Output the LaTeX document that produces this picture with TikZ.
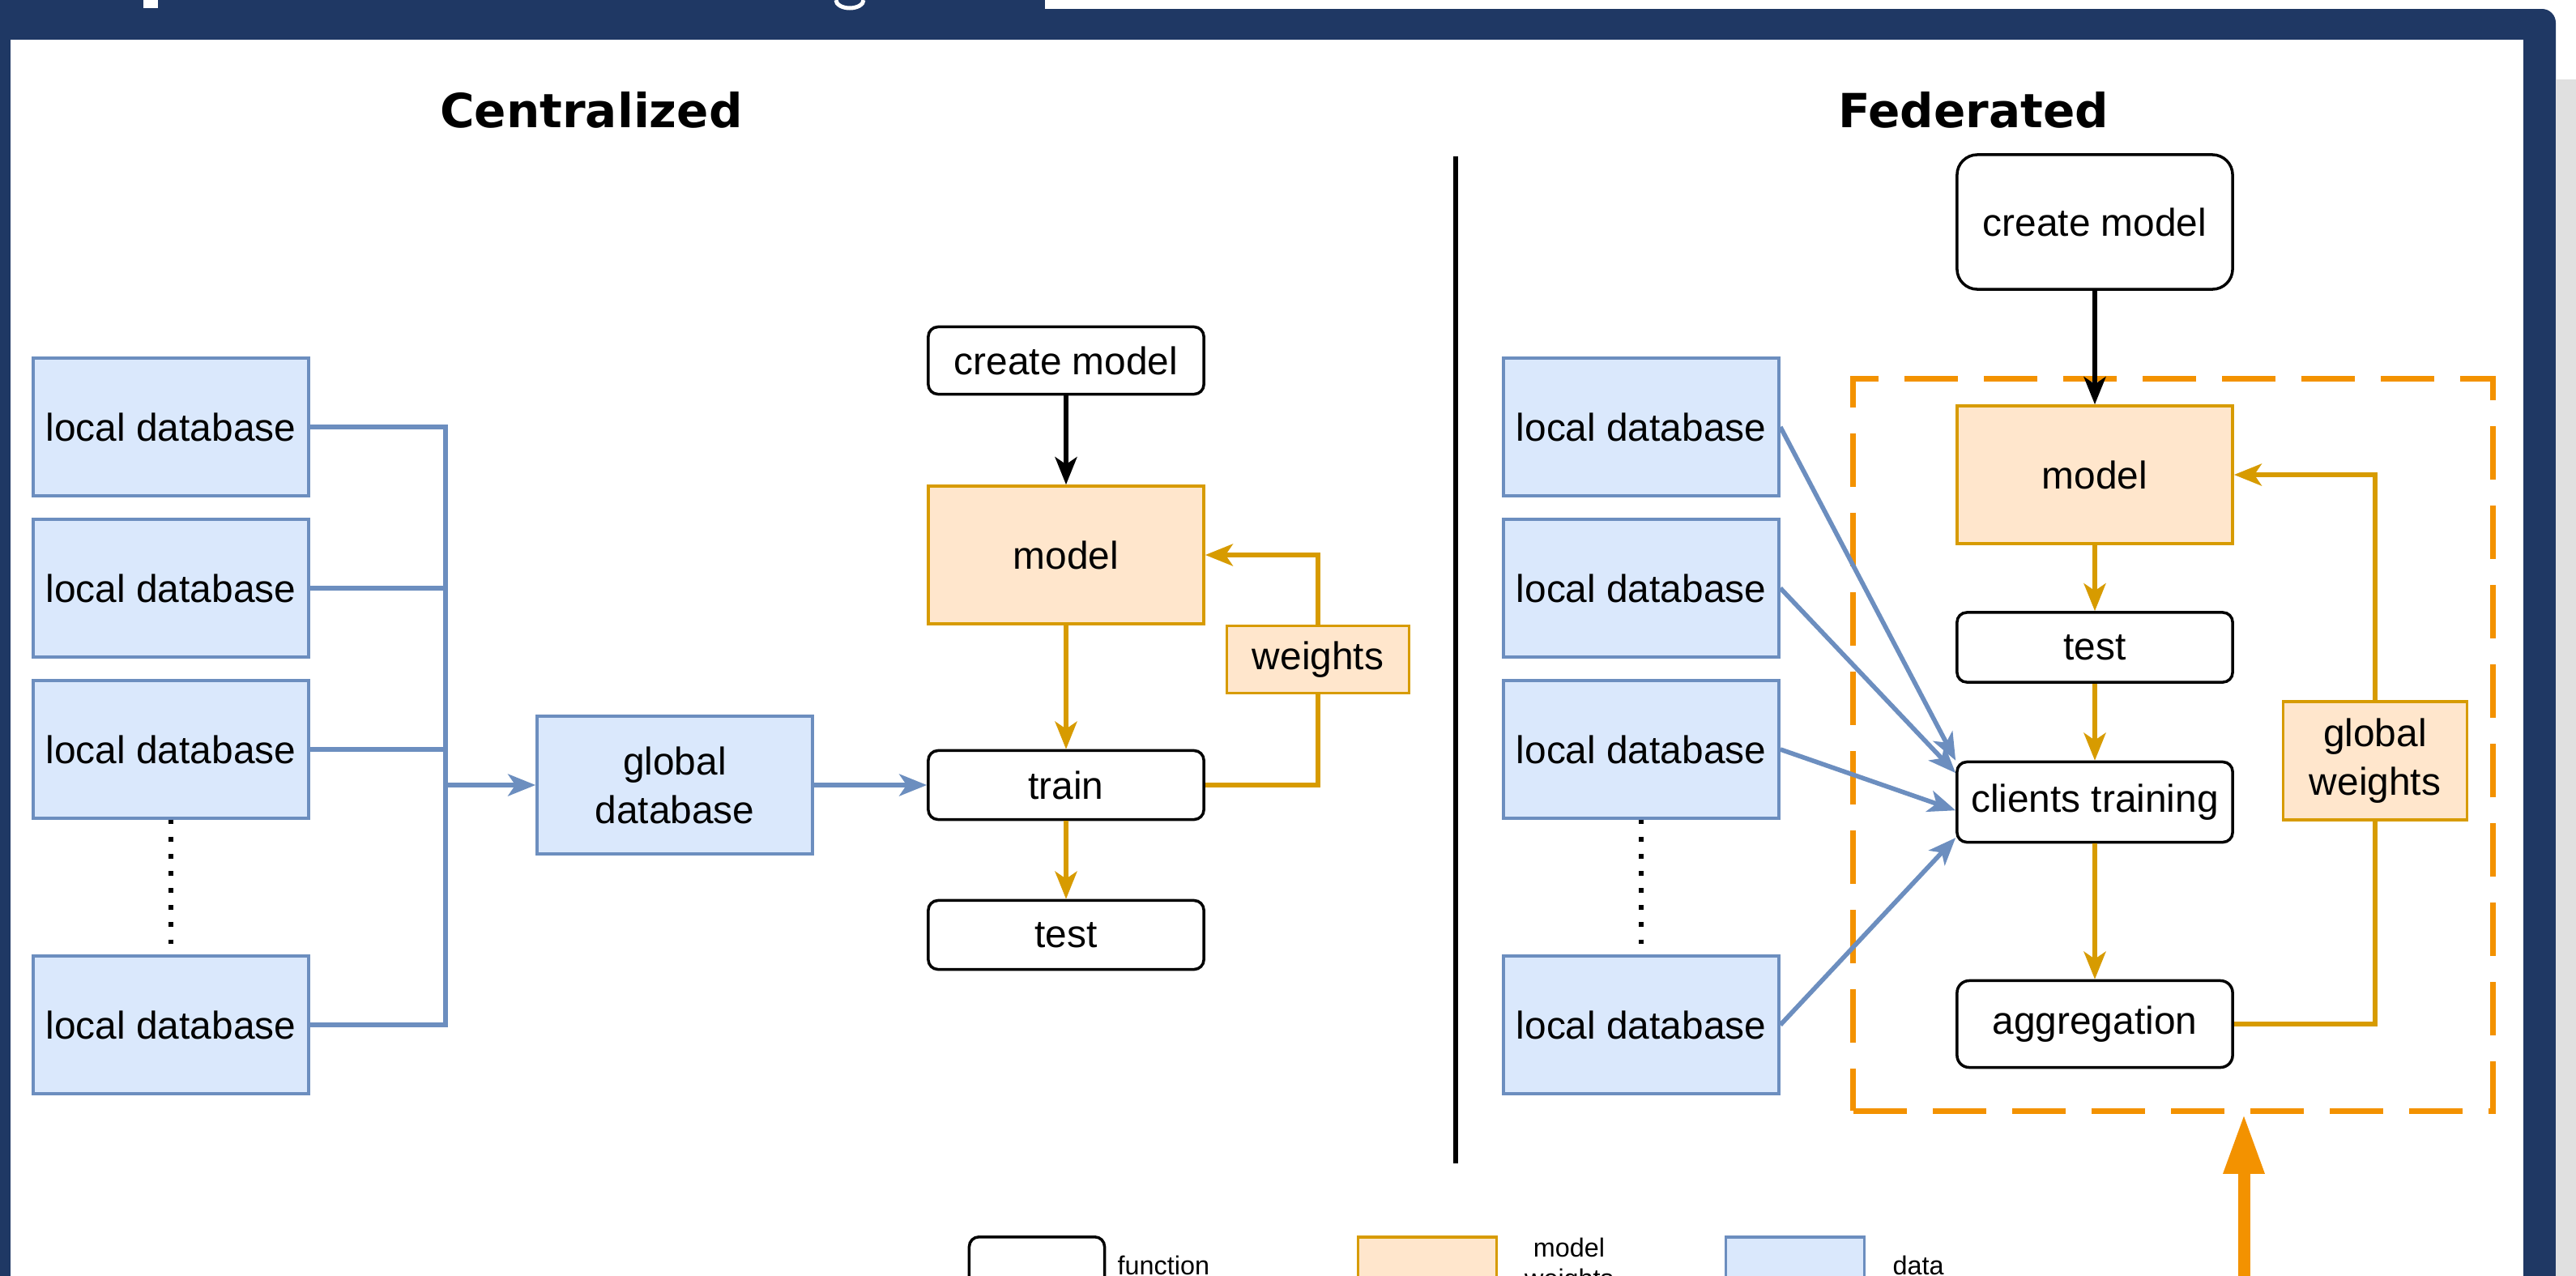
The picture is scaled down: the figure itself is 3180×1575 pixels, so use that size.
\documentclass[tikz,border=0pt]{standalone}
\usepackage{fontspec}
\setmainfont{Liberation Sans}
\newfontfamily\headfont{DejaVu Sans}
\usepackage{xcolor}
\usetikzlibrary{arrows.meta,calc}

\definecolor{navy}{RGB}{31,56,100}
\definecolor{dbfill}{HTML}{DAE8FC}
\definecolor{dbline}{HTML}{6C8EBF}
\definecolor{mfill}{HTML}{FFE6CC}
\definecolor{mline}{HTML}{D79B00}
\definecolor{fedline}{HTML}{F39200}
\definecolor{sidegray}{HTML}{E0E0E0}

\begin{document}
\begin{tikzpicture}[x=0.01cm, y=-0.01cm,
      every node/.style = {align=center, inner sep=0pt,
        font=\fontsize{13.6}{17}\selectfont},
      head/.style = {font=\headfont\bfseries\fontsize{16.5}{20}\selectfont},
      func/.style = {draw, fill=white, rounded corners=0.12cm,
        line width=1pt, minimum width=3.4cm},
      db/.style = {draw=dbline, fill=dbfill, line width=1pt,
        minimum width=3.4cm, minimum height=1.7cm},
      wts/.style = {draw=mline, fill=mfill, line width=1pt},
      link/.style = {line width=1.6pt},
      flow/.style = {line width=1.6pt,
        -{Stealth[length=0.34cm, width=0.27cm, inset=0.09cm]}},
      dots/.style = {line width=1.6pt, dash pattern=on 1.6pt off 4.4pt},
      legend/.style = {font=\fontsize{9.2}{11}\selectfont}]

  \useasboundingbox (0,0) rectangle (3180,1575);
  \clip (0,0) rectangle (3180,1575);

  % slide frame
  \fill[white] (0,0) rectangle (3180,1575);
  \fill[navy] (0,0) rectangle (1290,49);
  \fill[navy, rounded corners=0.17cm] (1250,11) rectangle (3155,1700);
  \fill[navy] (0,0) rectangle (13,1575);
  \fill[white] (13,49) rectangle (3115,1700);
  \fill[sidegray] (3155,98) rectangle (3180,1575);
  \fill[white] (177,0) rectangle (195,10);
  \draw[white, line width=0.05cm] (1032,0) arc[start angle=180, end angle=0,
    x radius=17, y radius=10];

  \node[head] (hc) at (730,136) {Centralized};
  \node[head] (hf) at (2436,136) {Federated};

  % centralized
  \node[db] (ldb1) at (211,527) {local database};
  \node[db] (ldb2) at (211,726) {local database};
  \node[db] (ldb3) at (211,925) {local database};
  \node[db] (ldb4) at (211,1265) {local database};
  \node[db] (gdb) at (833,969) {global\\database};
  \node[func, minimum height=0.83cm] (mk) at (1316,445) {create model};
  \node[wts, minimum width=3.4cm, minimum height=1.7cm] (mdl) at (1316,685) {model};
  \node[wts, minimum width=2.25cm, minimum height=0.83cm] (w) at (1627,814) {weights};
  \node[func, minimum height=0.85cm] (train) at (1316,969) {train};
  \node[func, minimum height=0.85cm] (tst) at (1316,1154) {test};

  \coordinate (jn) at (550,969);
  \draw[link, dbline] (ldb1.east) -| (jn);
  \draw[link, dbline] (ldb4.east) -| (jn);
  \draw[link, dbline] (ldb2.east) -- (ldb2.east -| jn);
  \draw[link, dbline] (ldb3.east) -- (ldb3.east -| jn);
  \draw[flow, dbline] (jn) -- (gdb);
  \draw[flow, dbline] (gdb) -- (train);
  \draw[dots] (ldb3) -- (ldb4);
  \draw[flow] (mk) -- (mdl);
  \draw[flow, mline] (mdl) -- (train);
  \draw[flow, mline] (train) -- (tst);
  \draw[link, mline] (train.east) -| (w.south);
  \draw[flow, mline] (w.north) |- (mdl.east);

  \coordinate (dtop) at (1797,193);
  \coordinate (dbot) at (1797,1436);
  \draw[link] (dtop) -- (dbot);

  % federated
  \node[draw=fedline, line width=2pt, dash pattern=on 0.66cm off 0.32cm,
    minimum width=7.89cm, minimum height=9.03cm] (fed) at (2682.5,919.5) {};
  \node[func, rounded corners=0.25cm, minimum height=1.66cm] (mkR) at (2586,274) {create model};
  \node[db] (rdb1) at (2026,527) {local database};
  \node[db] (rdb2) at (2026,726) {local database};
  \node[db] (rdb3) at (2026,925) {local database};
  \node[db] (rdb4) at (2026,1265) {local database};
  \node[wts, minimum width=3.4cm, minimum height=1.7cm] (mdlR) at (2586,586) {model};
  \node[func, minimum height=0.86cm] (tstR) at (2586,799) {test};
  \node[func, minimum height=0.99cm] (ct) at (2586,990) {clients training};
  \node[func, rounded corners=0.15cm, minimum height=1.07cm] (agg) at (2586,1264) {aggregation};
  \node[wts, minimum width=2.27cm, minimum height=1.46cm] (gw) at (2932,939) {global\\weights};

  \draw[dots] (rdb3) -- (rdb4);
  \draw[flow] (mkR) -- (mdlR);
  \draw[flow, mline] (mdlR) -- (tstR);
  \draw[flow, mline] (tstR) -- (ct);
  \draw[flow, mline] (ct) -- (agg);
  \draw[link, mline] (agg.east) -| (gw.south);
  \draw[flow, mline] (gw.north) |- (mdlR.east);
  \draw[flow, dbline] (rdb1.east) -- (ct.north west);
  \draw[flow, dbline] (rdb2.east) -- ($(ct.north west)!0.15!(ct.south west)$);
  \draw[flow, dbline] (rdb3.east) -- ($(ct.north west)!0.6!(ct.south west)$);
  \draw[flow, dbline] (rdb4.east) -- ($(ct.north west)!0.93!(ct.south west)$);

  \coordinate (up) at (2770,1620);
  \draw[fedline, line width=0.15cm, -{Triangle[length=0.74cm, width=0.47cm]}]
    (up) -- (up |- fed.south);

  % legend
  \node[func, minimum width=1.67cm, minimum height=1.2cm, anchor=north] (lf) at (1280,1525) {};
  \node[legend, anchor=west] (lft) at (1379,1562) {function};
  \node[wts, minimum width=1.71cm, minimum height=1.2cm, anchor=north] (lw) at (1762,1525) {};
  \node[legend, anchor=north] (lwt) at (1937,1527) {model\\weights};
  \node[db, minimum width=1.71cm, minimum height=1.2cm, anchor=north] (ld) at (2216,1525) {};
  \node[legend, anchor=west] (ldt) at (2336,1562) {data};
\end{tikzpicture}
\end{document}
